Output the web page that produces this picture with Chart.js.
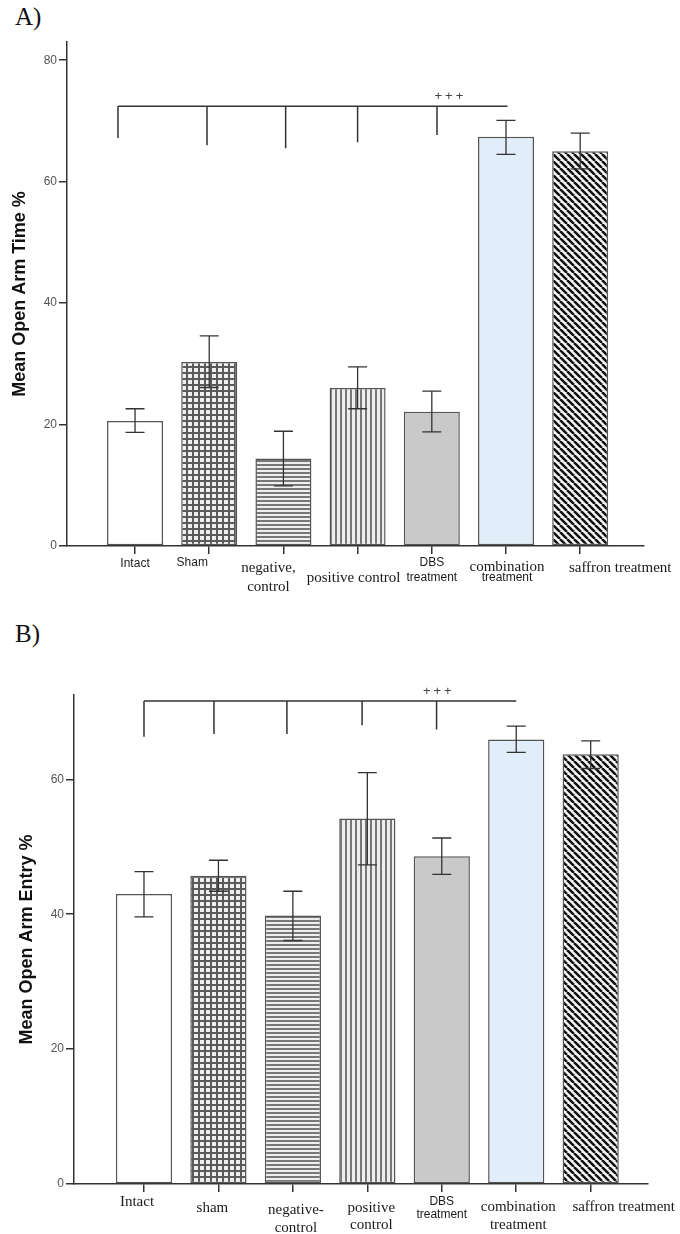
<!DOCTYPE html>
<html>
<head>
<meta charset="utf-8">
<script src="https://cdn.jsdelivr.net/npm/chart.js@4.4.0/dist/chart.umd.min.js"></script>
<style>
body{margin:0;background:#fff;width:680px;height:1234px;position:relative;overflow:hidden}
.panel{position:absolute;left:0;width:680px}
.tag{position:absolute;left:15px;font-family:"Liberation Serif",serif;font-size:25px;color:#111;line-height:1.15}
</style>
</head>
<body>
<div class="tag" style="top:3px">A)</div>
<div class="panel" style="top:0;height:600px"><canvas id="chartA"></canvas></div>
<div class="tag" style="top:620px">B)</div>
<div class="panel" style="top:600px;height:634px"><canvas id="chartB"></canvas></div>

<script>
/* panel A - open arm time */
const labelsA = [["Intact"], ["Sham"], ["negative,", "control"], ["positive control"], ["DBS", "treatment"], ["combination", "treatment"], ["saffron treatment"]];
const meanTimeA = [20.6, 30.3, 14.4, 26.0, 22.1, 67.4, 65.0];
const errHighA = [22.6, 34.6, 18.9, 29.5, 25.5, 70.1, 68.0];
const errLowA = [18.7, 26.1, 9.9, 22.6, 18.8, 64.5, 62.1];
const bracketTopA = 72.4;
const bracketDropsA = [67.2, 66.0, 65.5, 66.5, 67.7];

/* panel B - open arm entry */
const labelsB = [["Intact"], ["sham"], ["negative-", "control"], ["positive", "control"], ["DBS", "treatment"], ["combination", "treatment"], ["saffron treatment"]];
const meanEntryB = [43.0, 45.7, 39.8, 54.2, 48.6, 65.9, 63.7];
const errHighB = [46.3, 48.0, 43.4, 61.0, 51.3, 67.9, 65.7];
const errLowB = [39.6, 43.4, 36.1, 47.3, 45.9, 64.0, 61.6];
const bracketTopB = 71.6;
const bracketDropsB = [66.3, 66.7, 66.7, 68.0, 67.4];

const SANS = '12px "Liberation Sans", Arial, sans-serif';
const SERIF = '15px "Liberation Serif", "Times New Roman", serif';

/* where each x label sits relative to its tick (px) */
const labelStyleA = [
    {dx: 0, dy: [18], font: [SANS]},
    {dx: -17, dy: [17], font: [SANS]},
    {dx: -15, dy: [22, 41], font: [SERIF, SERIF]},
    {dx: -4, dy: [32], font: [SERIF]},
    {dx: 0, dy: [17, 32], font: [SANS, SANS]},
    {dx: 1, dy: [21, 32], font: [SERIF, SANS]},
    {dx: 40, dy: [22], font: [SERIF]}
];
const labelStyleB = [
    {dx: -7, dy: [18], font: [SERIF]},
    {dx: -6, dy: [24], font: [SERIF]},
    {dx: 3, dy: [26, 44], font: [SERIF, SERIF]},
    {dx: 4, dy: [24, 41], font: [SERIF, SERIF]},
    {dx: 0, dy: [18, 31], font: [SANS, SANS]},
    {dx: 2, dy: [23, 41], font: [SERIF, SERIF]},
    {dx: 33, dy: [23], font: [SERIF]}
];

/* bar fills */
function makePattern(kind){
    const size = {grid: 6, horiz: 4, vert: 5, diag: 7}[kind];
    const c = document.createElement("canvas");
    c.width = size; c.height = size;
    const g = c.getContext("2d");
    g.fillStyle = kind == "diag" ? "#f6f6f6" : "#eeeeee";
    g.fillRect(0, 0, size, size);
    if (kind == "grid"){
        g.fillStyle = "#5a5a5a";
        g.fillRect(0, 0, size, 2);
        g.fillRect(0, 0, 2, size);
    } else if (kind == "horiz"){
        g.fillStyle = "#777";
        g.fillRect(0, 0, size, 2);
    } else if (kind == "vert"){
        g.fillStyle = "#777";
        g.fillRect(0, 0, 2, size);
    } else {
        g.strokeStyle = "#111";
        g.lineWidth = 2.5;
        g.beginPath();
        [-size, 0, size].forEach(k => { g.moveTo(k, 0); g.lineTo(k + size, size); });
        g.stroke();
    }
    return g.createPattern(c, "repeat");
}
const barFills = ["#ffffff", makePattern("grid"), makePattern("horiz"), makePattern("vert"), "#c9c9c9", "#e1edf9", makePattern("diag")];

function makeChart(id, cfg){
    const overlay = {
        id: "overlay_" + id,
        afterDatasetsDraw(chart){
            const ctx = chart.ctx;
            const xs = chart.scales.x, ys = chart.scales.y;
            const bars = chart.getDatasetMeta(0).data;
            ctx.save();
            /* error bars */
            ctx.strokeStyle = "#333";
            ctx.lineWidth = 1.3;
            bars.forEach((bar, i) => {
                const hi = ys.getPixelForValue(cfg.errHigh[i]);
                const lo = ys.getPixelForValue(cfg.errLow[i]);
                ctx.beginPath();
                ctx.moveTo(bar.x, hi); ctx.lineTo(bar.x, lo);
                ctx.moveTo(bar.x - 9.5, hi); ctx.lineTo(bar.x + 9.5, hi);
                ctx.moveTo(bar.x - 9.5, lo); ctx.lineTo(bar.x + 9.5, lo);
                ctx.stroke();
            });
            /* significance bracket */
            const top = ys.getPixelForValue(cfg.bracketTop);
            ctx.lineWidth = 1.5;
            ctx.beginPath();
            ctx.moveTo(xs.getPixelForValue(cfg.dropShift[0]), top);
            ctx.lineTo(xs.getPixelForValue(cfg.bracketEnd), top);
            cfg.bracketDrops.forEach((v, i) => {
                const x = xs.getPixelForValue(i + cfg.dropShift[i]);
                ctx.moveTo(x, top);
                ctx.lineTo(x, ys.getPixelForValue(v));
            });
            ctx.stroke();
            ctx.fillStyle = "#444";
            ctx.font = '13px "Liberation Sans", Arial, sans-serif';
            ctx.letterSpacing = "3px";
            ctx.textAlign = "center";
            ctx.textBaseline = "bottom";
            ctx.fillText("+++", xs.getPixelForValue(cfg.plusAt) + 1.5, top - 3);
            ctx.letterSpacing = "0px";
            /* category labels */
            ctx.fillStyle = "#1a1a1a";
            ctx.textBaseline = "middle";
            const base = ys.getPixelForValue(0);
            cfg.labels.forEach((lines, i) => {
                const st = cfg.labelStyle[i];
                const x = xs.getPixelForValue(i) + st.dx;
                lines.forEach((line, j) => {
                    ctx.font = st.font[j];
                    ctx.fillText(line, x, base + st.dy[j]);
                });
            });
            ctx.restore();
        }
    };

    return new Chart(document.getElementById(id), {
        type: "bar",
        data: {
            datasets: [{
                data: cfg.values.map((v, i) => ({x: i, y: v})),
                backgroundColor: barFills,
                borderColor: "#555",
                borderWidth: 1.5,
                borderSkipped: false,
                categoryPercentage: 1,
                barPercentage: 0.755
            }]
        },
        options: {
            responsive: true,
            maintainAspectRatio: false,
            animation: false,
            layout: {padding: {top: cfg.padTop, right: cfg.padRight, left: 0, bottom: 0}},
            plugins: {legend: {display: false}, tooltip: {enabled: false}},
            scales: {
                x: {
                    type: "linear",
                    min: cfg.xMin, max: cfg.xMax,
                    offset: false,
                    afterBuildTicks: s => { s.ticks = cfg.labels.map((_, i) => ({value: i})); },
                    afterFit: s => { s.height = cfg.axisHeight; },
                    grid: {offset: false, drawOnChartArea: false, drawTicks: true, tickLength: 8, color: "#333", lineWidth: 1.5},
                    border: {display: true, color: "#333", width: 1.5},
                    ticks: {display: false}
                },
                y: {
                    min: 0, max: cfg.yMax,
                    afterFit: s => { s.width = cfg.axisWidth; },
                    ticks: {stepSize: 20, includeBounds: false, color: "#555", padding: 2,
                            font: {family: "Liberation Sans", size: 12}},
                    grid: {drawOnChartArea: false, tickLength: 8, color: "#333", lineWidth: 1.5},
                    border: {color: "#333", width: 1.5},
                    title: {display: true, text: cfg.title, color: "#111",
                            font: {family: "Liberation Sans", size: 18, weight: "bold"},
                            padding: {top: cfg.titlePad, bottom: 0}}
                }
            }
        },
        plugins: [overlay]
    });
}

makeChart("chartA", {
    labels: labelsA, values: meanTimeA, errHigh: errHighA, errLow: errLowA,
    bracketTop: bracketTopA, bracketDrops: bracketDropsA,
    dropShift: [-0.23, -0.03, 0.03, 0, 0.07], bracketEnd: 5.02, plusAt: 4.23,
    labelStyle: labelStyleA, title: "Mean Open Arm Time %",
    yMax: 83, xMin: -0.917, xMax: 6.86,
    padTop: 42, padRight: 36, axisHeight: 54, axisWidth: 67, titlePad: 9
});

makeChart("chartB", {
    labels: labelsB, values: meanEntryB, errHigh: errHighB, errLow: errLowB,
    bracketTop: bracketTopB, bracketDrops: bracketDropsB,
    dropShift: [0, -0.06, -0.08, -0.07, -0.07], bracketEnd: 5.0, plusAt: 3.94,
    labelStyle: labelStyleB, title: "Mean Open Arm Entry %",
    yMax: 72.5, xMin: -0.94, xMax: 6.77,
    padTop: 95, padRight: 32, axisHeight: 50, axisWidth: 74, titlePad: 16
});
</script>
</body>
</html>
